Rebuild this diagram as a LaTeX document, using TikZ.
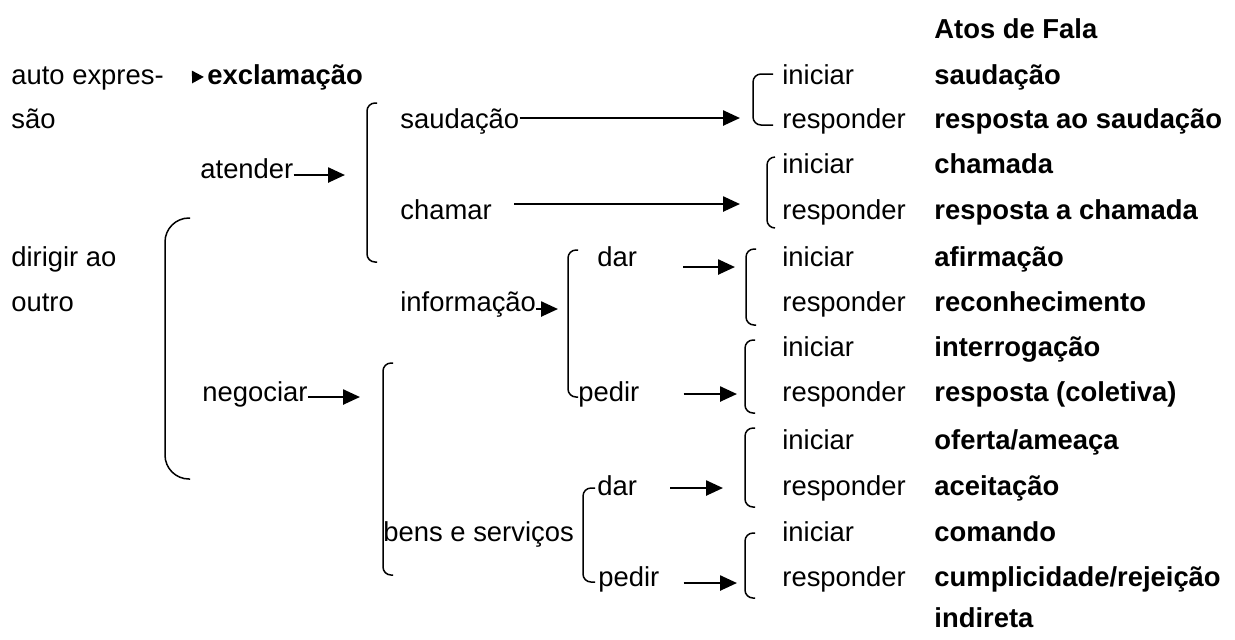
\documentclass[tikz,border=0pt]{standalone}
\usepackage{fontspec}
\setmainfont{Liberation Sans}
\usetikzlibrary{arrows.meta}

\begin{document}
\begin{tikzpicture}[x=0.5pt,y=-0.5pt,
		font=\fontsize{13.7}{16}\selectfont,
		lbl/.style={anchor=base west,inner sep=0pt},
		act/.style={lbl,font=\fontsize{13.7}{16}\selectfont\bfseries},
		arr/.style={line width=1.25pt,-{Triangle[length=8.5pt,width=7.5pt]}},
		brk/.style={line width=0.75pt,rounded corners=4pt}]
		\useasboundingbox (0,0) rectangle (1235,639);
		% first column
		\node[lbl] (auto) at (11,84) {auto expres-};
		\node[lbl] (sao) at (11,128) {são};
		\node[lbl] (dirig) at (11,266) {dirigir ao};
		\node[lbl] (outro) at (11,311) {outro};
		\node[act] (excl) at (207,84) {exclamação};
		\node[lbl] (atend) at (200,178) {atender};
		\node[lbl] (negoc) at (202,401) {negociar};
		\node[lbl] (saud) at (400,128) {saudação};
		\node[lbl] (cham) at (400,219) {chamar};
		\node[lbl] (info) at (400,311) {informação};
		\node[lbl] (bens) at (383,541) {bens e serviços};
		\node[lbl] (idar) at (597,266) {dar};
		\node[lbl] (iped) at (578,401) {pedir};
		\node[lbl] (bdar) at (597,495) {dar};
		\node[lbl] (bped) at (598,586) {pedir};
		% iniciar / responder and the acts
		\node[act] (atos) at (934,38) {Atos de Fala};
		\foreach \y/\v/\a [count=\i] in {84/iniciar/saudação,128/responder/resposta ao saudação,
				173/iniciar/chamada,219/responder/resposta a chamada,
				266/iniciar/afirmação,311/responder/reconhecimento,
				356/iniciar/interrogação,401/responder/resposta (coletiva),
				449/iniciar/{oferta/ameaça},495/responder/aceitação,
				541/iniciar/comando,586/responder/{cumplicidade/rejeição}}{
			\node[lbl] (v\i) at (782,\y) {\v};
			\node[act] (a\i) at (934,\y) {\a};
		}
		\node[act] (a13) at (934,627) {indireta};
		% brackets
		\draw[brk,rounded corners=12pt] (190,218) -- (165,218) -- (165,479) -- (190,479);
		\draw[brk] (377,103) -- (367,103) -- (367,262) -- (377,262);
		\draw[brk] (393,363) -- (383,363) -- (383,575) -- (393,575);
		\draw[brk] (578,250) -- (568,250) -- (568,397) -- (578,397);
		\draw[brk] (595,488) -- (583,488) -- (583,582) -- (595,582);
		\draw[brk] (773,74) -- (753,74) -- (753,125) -- (773,125);
		\draw[brk] (775,157) -- (767,157) -- (767,228) -- (775,228);
		\draw[brk] (756,249) -- (746,249) -- (746,325) -- (756,325);
		\draw[brk] (755,340) -- (745,340) -- (745,413) -- (755,413);
		\draw[brk] (755,428) -- (745,428) -- (745,507) -- (755,507);
		\draw[brk] (755,533) -- (745,533) -- (745,598) -- (755,598);
		% arrows
		\coordinate (tEx) at (194,77);
		\coordinate (hAt) at (345,175);
		\coordinate (hNe) at (360,397);
		\coordinate (hSa) at (740,118);
		\coordinate (hCh) at (740,204);
		\coordinate (hIn) at (558,309);
		\coordinate (hId) at (735,267);
		\coordinate (hIp) at (737,394);
		\coordinate (hBd) at (723,488);
		\coordinate (hBp) at (737,583);
		\draw[arr,-{Triangle[length=6pt,width=6pt]},shorten >=1.5pt] (tEx) -- (excl.west);
		\draw[arr] (atend.east |- hAt) -- (hAt);
		\draw[arr] (negoc.east |- hNe) -- (hNe);
		\draw[arr] (saud.east |- hSa) -- (hSa);
		\draw[arr,shorten <=11pt] (cham.east |- hCh) -- (hCh);
		\draw[arr,shorten <=23pt] (idar.east |- hId) -- (hId);
		\draw[arr] (info.east |- hIn) -- (hIn);
		\draw[arr,shorten <=22pt] (iped.east |- hIp) -- (hIp);
		\draw[arr,shorten <=16.5pt] (bdar.east |- hBd) -- (hBd);
		\draw[arr,shorten <=12pt] (bped.east |- hBp) -- (hBp);
\end{tikzpicture}
\end{document}
